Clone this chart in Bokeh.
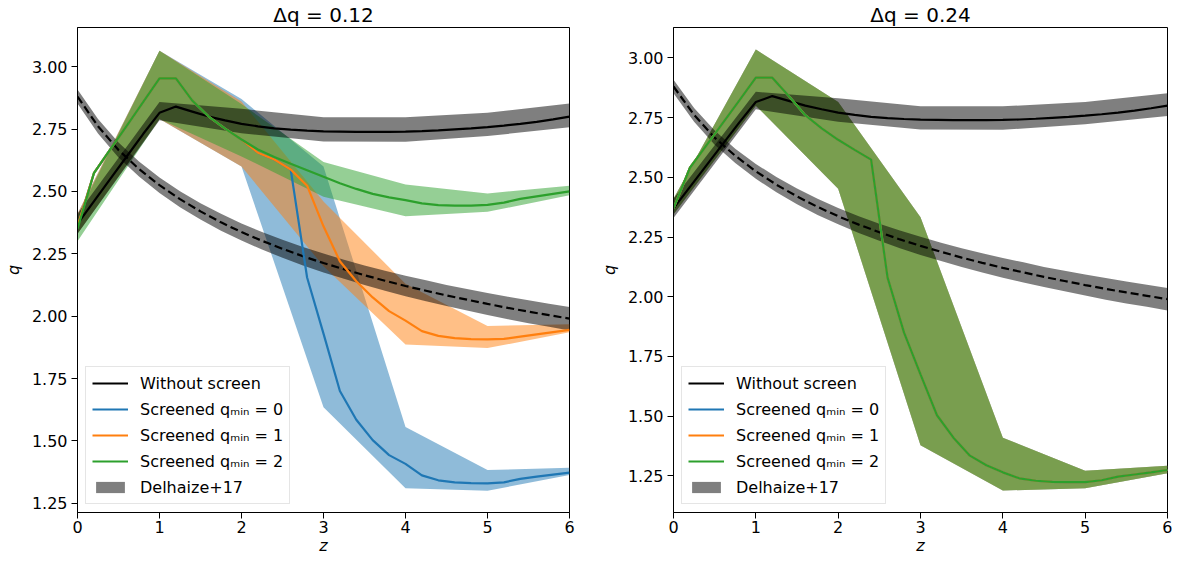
from bokeh.plotting import figure
from bokeh.models import Range1d, FixedTicker, Legend, LegendItem, NumeralTickFormatter
from bokeh.layouts import row
from bokeh.embed import file_html
from bokeh.resources import INLINE

# ---------------- data ----------------
z_line = [0.0, 0.2, 0.4, 0.6, 0.8, 1.0, 1.2, 1.4, 1.6, 1.8, 2.0, 2.2, 2.4, 2.6, 2.8, 3.0,
          3.2, 3.4, 3.6, 3.8, 4.0, 4.2, 4.4, 4.6, 4.8, 5.0, 5.2, 5.4, 5.6, 5.8, 6.0]
z_band = [0, 1, 2, 3, 4, 5, 6]
z_del = [0.0, 0.25, 0.5, 0.75, 1.0, 1.25, 1.5, 1.75, 2.0, 2.25, 2.5, 2.75, 3.0, 3.25, 3.5,
         3.75, 4.0, 4.25, 4.5, 4.75, 5.0, 5.25, 5.5, 5.75, 6.0]

# without screen (black solid) and its band
q_noscreen = [2.37, 2.46, 2.55, 2.64, 2.73, 2.815, 2.84, 2.82, 2.80, 2.785, 2.771, 2.761, 2.753,
              2.748, 2.744, 2.741, 2.740, 2.739, 2.739, 2.739, 2.740, 2.742, 2.745, 2.749, 2.753,
              2.758, 2.764, 2.771, 2.779, 2.789, 2.80]
noscreen_hi = [2.41, 2.858, 2.831, 2.797, 2.797, 2.815, 2.852]
noscreen_lo = [2.33, 2.785, 2.733, 2.700, 2.699, 2.722, 2.757]

# Delhaize+17 (dashed) and its band
q_del = [2.880, 2.761, 2.666, 2.590, 2.525, 2.469, 2.420, 2.376, 2.337, 2.302, 2.270, 2.240, 2.213,
         2.188, 2.164, 2.142, 2.121, 2.102, 2.083, 2.066, 2.049, 2.033, 2.018, 2.004, 1.990]
del_hi = [2.908, 2.790, 2.696, 2.620, 2.556, 2.501, 2.453, 2.410, 2.371, 2.337, 2.306, 2.277, 2.251,
          2.226, 2.203, 2.182, 2.162, 2.144, 2.125, 2.109, 2.093, 2.078, 2.064, 2.050, 2.037]
del_lo = [2.852, 2.732, 2.636, 2.560, 2.494, 2.437, 2.387, 2.342, 2.303, 2.267, 2.234, 2.203, 2.175,
          2.150, 2.125, 2.102, 2.080, 2.060, 2.041, 2.023, 2.005, 1.988, 1.972, 1.958, 1.943]

# Left panel (dq = 0.12)
L_q0 = [2.36, 2.573, 2.668, 2.763, 2.858, 2.953, 2.953, 2.864, 2.80, 2.752, 2.708, 2.655, 2.628,
        2.588, 2.155, 1.93, 1.70, 1.585, 1.503, 1.443, 1.408, 1.362, 1.342, 1.334, 1.331, 1.330,
        1.334, 1.348, 1.357, 1.365, 1.373]
L_q1 = [2.36, 2.573, 2.668, 2.763, 2.858, 2.953, 2.953, 2.864, 2.80, 2.752, 2.708, 2.655, 2.628,
        2.588, 2.523, 2.36, 2.22, 2.14, 2.075, 2.02, 1.982, 1.94, 1.921, 1.912, 1.908, 1.907,
        1.909, 1.918, 1.927, 1.936, 1.945]
L_q2 = [2.35, 2.573, 2.668, 2.763, 2.858, 2.953, 2.953, 2.864, 2.80, 2.752, 2.708, 2.668, 2.638,
        2.611, 2.585, 2.559, 2.533, 2.510, 2.490, 2.476, 2.465, 2.452, 2.445, 2.443, 2.443, 2.446,
        2.455, 2.470, 2.480, 2.490, 2.500]
L_q0_hi = [2.41, 3.064, 2.87, 2.60, 1.556, 1.383, 1.392]
L_q0_lo = [2.33, 2.79, 2.60, 1.635, 1.31, 1.30, 1.363]
L_q1_hi = [2.41, 3.064, 2.86, 2.46, 2.13, 1.961, 1.968]
L_q1_lo = [2.33, 2.79, 2.60, 2.20, 1.886, 1.872, 1.935]
L_q2_hi = [2.40, 3.064, 2.85, 2.618, 2.528, 2.492, 2.523]
L_q2_lo = [2.30, 2.79, 2.64, 2.479, 2.40, 2.418, 2.485]

# Right panel (dq = 0.24): the three screened cases coincide
R_q = [2.37, 2.54, 2.634, 2.728, 2.822, 2.917, 2.917, 2.84, 2.76, 2.705, 2.657, 2.615, 2.574, 2.08,
       1.85, 1.675, 1.504, 1.41, 1.335, 1.295, 1.265, 1.24, 1.23, 1.225, 1.224, 1.224, 1.232,
       1.247, 1.256, 1.265, 1.275]
R_hi = [2.41, 3.035, 2.815, 2.333, 1.41, 1.272, 1.293]
R_lo = [2.345, 2.80, 2.452, 1.379, 1.189, 1.199, 1.261]

y_ticks = [1.25, 1.50, 1.75, 2.00, 2.25, 2.50, 2.75, 3.00]
x_ticks = [0, 1, 2, 3, 4, 5, 6]
titles = ["\u0394q = 0.12", "\u0394q = 0.24"]
labels = ["Without screen", "Screened q\u2098\u1d62\u2099 = 0", "Screened q\u2098\u1d62\u2099 = 1",
          "Screened q\u2098\u1d62\u2099 = 2", "Delhaize+17"]

BLUE, ORANGE, GREEN = "#1f77b4", "#ff7f0e", "#2ca02c"
FONT = "DejaVu Sans"
LW = 2.2
H = 558


def panel(title, yr, lines, bands, width, bl, br):
    p = figure(width=width, height=H, x_range=Range1d(0, 6), y_range=Range1d(*yr),
               output_backend="svg", toolbar_location=None,
               min_border_left=bl, min_border_right=br, min_border_top=24,
               min_border_bottom=H - 24 - 488)
    p.title.text = title
    p.title.align = "center"
    p.title.text_font = FONT
    p.title.text_font_size = "20px"
    p.title.text_font_style = "normal"
    p.title.text_color = "black"
    p.title.standoff = 1
    p.xgrid.visible = False
    p.ygrid.visible = False
    p.outline_line_color = "black"
    p.outline_line_alpha = 1
    p.outline_line_width = 1
    p.background_fill_color = "white"
    p.border_fill_color = "white"

    colors = [BLUE, ORANGE, GREEN]
    for (hi, lo), c in zip(bands, colors):
        p.varea(x=z_band, y1=lo, y2=hi, fill_color=c, fill_alpha=0.5)
    p.varea(x=z_band, y1=noscreen_lo, y2=noscreen_hi, fill_color="black", fill_alpha=0.5)
    r_del = p.varea(x=z_del, y1=del_lo, y2=del_hi, fill_color="black", fill_alpha=0.5)
    r_ns = p.line(z_line, q_noscreen, line_color="black", line_width=LW)
    p.line(z_del, q_del, line_color="black", line_width=LW, line_dash="8 4")
    rs = []
    for q, c in zip(lines, colors):
        rs.append(p.line(z_line, q, line_color=c, line_width=LW))

    items = [LegendItem(label=labels[0], renderers=[r_ns])]
    for lab, r in zip(labels[1:4], rs):
        items.append(LegendItem(label=lab, renderers=[r]))
    items.append(LegendItem(label=labels[4], renderers=[r_del]))
    leg = Legend(items=items, location="bottom_left", margin=8, padding=6, spacing=6,
                 glyph_width=36, glyph_height=14, label_height=20, label_standoff=12,
                 label_text_font=FONT, label_text_font_size="16px", label_text_color="black",
                 border_line_color="#cccccc", border_line_width=1,
                 background_fill_color="white", background_fill_alpha=0.8)
    p.add_layout(leg)

    for ax in (p.xaxis, p.yaxis):
        ax.axis_line_color = "black"
        ax.major_tick_line_color = "black"
        ax.major_tick_in = 0
        ax.major_tick_out = 6
        ax.minor_tick_in = 0
        ax.minor_tick_out = 0
        ax.major_label_text_font = FONT
        ax.major_label_text_font_size = "16px"
        ax.major_label_text_color = "black"
        ax.axis_label_text_font = FONT
        ax.axis_label_text_font_size = "16px"
        ax.axis_label_text_font_style = "italic"
        ax.axis_label_text_color = "black"
    p.xaxis.ticker = FixedTicker(ticks=x_ticks)
    p.yaxis.ticker = FixedTicker(ticks=y_ticks)
    p.yaxis.formatter = NumeralTickFormatter(format="0.00")
    p.xaxis.axis_label = "z"
    p.yaxis.axis_label = "q"
    p.xaxis.major_label_standoff = 2
    p.xaxis.axis_label_standoff = 0
    p.yaxis.major_label_standoff = 4
    p.yaxis.axis_label_standoff = 6
    return p


left = panel(titles[0], (1.213, 3.157), [L_q0, L_q1, L_q2],
             [(L_q0_hi, L_q0_lo), (L_q1_hi, L_q1_lo), (L_q2_hi, L_q2_lo)], 596, 73, 27)
right = panel(titles[1], (1.097, 3.127), [R_q, R_q, R_q],
              [(R_hi, R_lo), (R_hi, R_lo), (R_hi, R_lo)], 576, 73, 5)

layout = row(left, right)
open("out.html", "w").write(file_html(layout, INLINE, title="q vs z"))
